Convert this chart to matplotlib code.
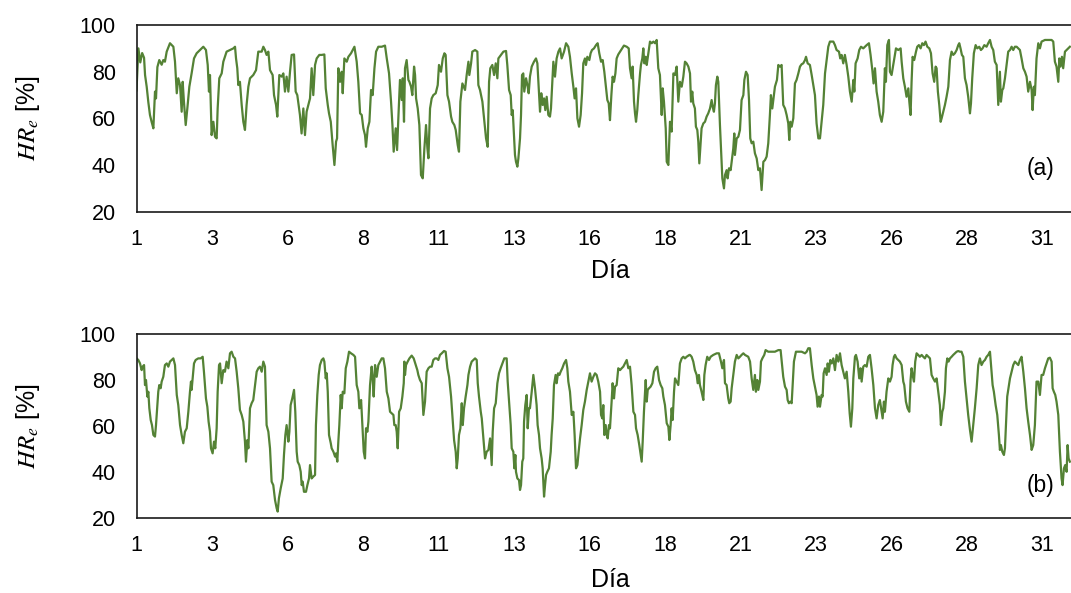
import matplotlib
matplotlib.use('Agg')
import matplotlib.pyplot as plt

plt.rcParams['font.family'] = ['Liberation Sans', 'DejaVu Sans']
plt.rcParams['mathtext.fontset'] = 'stix'

# x axis: hours since the start of day 1; one labelled tick every 60 h
tick_hours = [0, 60, 120, 180, 240, 300, 360, 420, 480, 540, 600, 660, 720]
tick_labels = ['1', '3', '6', '8', '11', '13', '16', '18', '21', '23', '26', '28', '31']
y_ticks = [20, 40, 60, 80, 100]
panel_tags = ['(a)', '(b)']

# Panel (a): (hour, HR_e %)
series_a = [
    (0, 72), (1.5, 90), (3, 84), (4.5, 88), (6, 86), (6.8, 78.6), (8.1, 73.6), (9.4, 67), (10.7, 61.5),
    (12, 58.6), (13.4, 55.8), (14.7, 71.5), (15.5, 68.6), (16.6, 82), (18.1, 85), (20, 83), (21.3, 85),
    (22.6, 84.3), (24, 88.6), (26.6, 92.2), (29.3, 90.7), (30.6, 84.3), (32, 70.8), (33.2, 77.2), (34.6, 74.3),
    (35.9, 62.9), (36.7, 75.7), (37.7, 67.2), (39.1, 57.2), (40.4, 64.3), (42, 73.6), (43.8, 79.3), (45.7, 85.7),
    (47.8, 87.9), (50.5, 89.3), (53.1, 90.7), (55.2, 89.3), (56.6, 82.9), (57.6, 71.5), (58.4, 78.6), (59.7, 52.9),
    (61.1, 58.6), (62.4, 52.2), (63.7, 51.5), (64.5, 64.3), (65.8, 77.2), (67.7, 79.3), (69, 84.3), (70.3, 86.4),
    (71.6, 88.6), (74.3, 89.3), (77, 90), (78.3, 90.7), (79.1, 85.7), (80.1, 81.5), (80.9, 74.3), (82.2, 75.7),
    (83.6, 65.8), (84.9, 58.6), (86.2, 55.1), (87.5, 65.8), (88.9, 73.6), (90.2, 77.2), (92.8, 78.6), (95, 80.7),
    (96.8, 88.6), (99.5, 88.6), (100.8, 90.7), (102.1, 89.3), (103.4, 87.2), (104.8, 88.6), (106.1, 80.7),
    (108.2, 78.6), (109.3, 70), (110.9, 65.8), (111.9, 60.8), (113.5, 78.6), (115.4, 77.9), (116.7, 79.3),
    (118, 71.5), (119.3, 77.9), (120.7, 71.5), (122, 80), (123.3, 87.2), (125.2, 87.4), (126.5, 71.5), (127.8, 70),
    (129.9, 61.5), (131.2, 53.6), (132.6, 64.3), (133.9, 52.9), (135.2, 62.9), (136.6, 65.8), (137.9, 68.6),
    (139.2, 81.5), (140.5, 70), (141.9, 82.9), (143.2, 85.7), (145.3, 87.2),
    (147.2, 87.2), (149.3, 87.4), (150.4, 72.9), (152, 65.8), (153, 62.2), (154.4, 58.6), (155.9, 48.6),
    (157.3, 40.1), (158.6, 50.1), (159.4, 51.5), (160.4, 81.5), (161.8, 75.7), (163.1, 80), (163.9, 70.8),
    (165.2, 85.7), (167.1, 84.3), (168.4, 86.4), (170.5, 87.9), (173.2, 90.7), (175, 84.3), (176.3, 75.7),
    (177.7, 62.2), (179, 61.5), (180.3, 55.8), (181.6, 52.9), (182.4, 47.9), (183.8, 55.8), (185.1, 58.6),
    (186.4, 72.2), (187.7, 70), (189.1, 81.5), (190.4, 88.6), (192.2, 90.7), (194.9, 90.7), (197.5, 91.2),
    (198.9, 85.7), (200.7, 79.3), (202.3, 67.2), (203.4, 57.2), (204.4, 45.8), (206, 55.8), (207.1, 46.5),
    (208.1, 60.1), (209.4, 76.5), (210.8, 67.9), (211.6, 77.2), (212.6, 58.6), (213.4, 81.5), (214.7, 85),
    (216.1, 76.5), (216.9, 75.7), (218.2, 73.6), (219.2, 70), (220.6, 82.2), (221.4, 78.6), (222.2, 68.6),
    (223.5, 64.3), (224.8, 57.2), (226.1, 35.8), (227.5, 34.4), (228.8, 47.2), (230.1, 57.2), (231.2, 47.2),
    (232, 43), (233.3, 64.3), (234.6, 68.6), (235.9, 70), (237.8, 70.8), (239.4, 74.3), (240.4, 82.9), (242, 80),
    (243.4, 85.7), (244.7, 87.9), (245.7, 87.2), (247.1, 70), (248.4, 67.2), (250, 60.8), (251, 58.6),
    (252.6, 57.2), (253.7, 55.1), (255.3, 48.6), (256.3, 45.8), (257.4, 67.2), (259, 75), (261.1, 72.2),
    (262.4, 78.6), (263.8, 84.3), (264.5, 78.6), (265.9, 83.6), (266.9, 88.6), (269.1, 89.3), (270.9, 88.6),
    (271.7, 74.3), (273, 72.2), (274.9, 67.2), (276.5, 58.6), (277.8, 51.5), (279.1, 47.9), (280.2, 75.7),
    (281.2, 81.5), (282.8, 82.9), (284.2, 78.6), (285.5, 83.6), (286.8, 77.2), (287.6, 85.7), (289.7, 87.2),
    (291.6, 88.6),
    (293.7, 88.9), (294.7, 82.9), (296.1, 72.2), (297.4, 70), (298.2, 61.5), (299, 63.6), (300, 52.9),
    (300.8, 44.4), (301.6, 41.5), (302.7, 39.4), (303.5, 42.9), (304.8, 51.5), (305.6, 61.5), (306.4, 78.6),
    (307.4, 79.3), (308.2, 71.5), (309.6, 77.2), (310.9, 73.6), (311.7, 70.8), (312.7, 77.9), (314.1, 82.2),
    (315.9, 84.3), (317.5, 85.7), (318.6, 83.6), (319.6, 73.6), (320.7, 62.9), (321.7, 70.8), (322.8, 65.8),
    (323.9, 68.6), (324.9, 63.6), (326, 69.3), (327.3, 61.5), (328.6, 60.8), (329.4, 64.3), (330.5, 75.7),
    (331.3, 84.3), (332.6, 77.9), (333.9, 85.7), (335.3, 88.6), (336.6, 90), (337.9, 85.7), (339.8, 88.6),
    (341.4, 92.2), (343.2, 90.7), (344.5, 86.4), (345.9, 79.3), (347.2, 73.6), (348.2, 68.6), (349.3, 72.9),
    (350.4, 60.1), (351.7, 56.5), (353, 61.5), (354.1, 70.8), (355.1, 83.6), (356.4, 85.7), (357.2, 82.9),
    (358.3, 86.4), (359.9, 85), (360.9, 87.9), (362, 89.3), (363.6, 90), (365.2, 91.4), (366.5, 92.2),
    (367.8, 87.9), (369.2, 84.3), (370.5, 85), (371.8, 80), (373.1, 73.6), (374.2, 67.9), (375.3, 66.5),
    (376.3, 59.3), (377.4, 70), (378.4, 77.9), (379.5, 75.7), (380.6, 79.3), (381.6, 85.7), (382.9, 87.4),
    (384.3, 88.6), (385.9, 90), (387.4, 91.2), (389.6, 90.7), (391.2, 90), (392.2, 81.5), (393.5, 77.2),
    (394.3, 82.2), (395.4, 67.2), (396.2, 62.2), (397, 58.6), (398, 63.6), (398.8, 70), (400.2, 79.3),
    (400.9, 82.9), (402, 85.7), (402.8, 90), (403.6, 83.6), (404.7, 86.4), (405.5, 82.9), (406.8, 87.9),
    (408.1, 92.9), (409.4, 92.2), (410.8, 92.9), (412.1, 92.2), (413.4, 93.6), (414.7, 81.5), (416, 78.6),
    (417.4, 61.5), (418.2, 72.9), (419.2, 67.2), (420.6, 55.8), (421.4, 41.5), (422.7, 40.1), (424, 58.6),
    (425.3, 54.4), (426.7, 79.3), (428, 78.6), (429.3, 82.2), (430.6, 67.2), (431.9, 75.7), (433.3, 73.6),
    (434.6, 77.9), (435.9, 84.3), (437.2, 83.6), (438.6, 82.2),
    (439.9, 79.3), (440.7, 67.2), (441.7, 71.5), (442.5, 66.5), (443.8, 64.3), (444.6, 56.5), (445.7, 55.1),
    (446.5, 50.1), (447.3, 40.8), (448.1, 47.2), (449.1, 55.8), (450.5, 57.9), (451.8, 58.6), (453.1, 60.8),
    (454.4, 62.2), (455.8, 64.3), (457.1, 67.9), (457.9, 65), (458.9, 62.9), (459.7, 66.5), (460.5, 74.3),
    (461.6, 77.9), (462.4, 75.7), (463.7, 57.2), (464.5, 47.2), (465.6, 34.4), (466.9, 30.1), (467.7, 35.8),
    (469, 37.9), (469.8, 34.4), (470.9, 38.7), (472.2, 37.9), (473, 41.5), (474.3, 47.2), (475.1, 53.6),
    (475.6, 44.4), (477, 51.5), (478.3, 52.2), (479.6, 55.1), (480.9, 67.9), (482.3, 70), (483.1, 76.5),
    (484.4, 80), (485.7, 78.6), (486.8, 67.9), (487.8, 51.5), (488.9, 49.4), (490.2, 50.1), (491.5, 45.1),
    (492.9, 42.9), (494.2, 37.9), (495.5, 38.7), (496.8, 29.4), (498.2, 41.5), (499.5, 42.2), (500.8, 43.7),
    (502.1, 49.4), (503.4, 61.5), (504.2, 70), (505.3, 64.3), (506.4, 69.3), (507.4, 73.6), (509, 76.5),
    (510.1, 82.9), (511.4, 82.2), (512.7, 82.9), (514, 65.8), (515.4, 64.3), (516.7, 61.5), (518, 57.9),
    (518.8, 50.8), (519.6, 58.6), (520.7, 56.5), (522, 60.1), (523.3, 75), (524.6, 76.5), (526, 79.3),
    (527.3, 82.2), (528.6, 83.2), (529.9, 83.6), (531.3, 85), (532.1, 86.4), (533.4, 83.6), (535.2, 82.9),
    (536.6, 78.6), (537.9, 74.3), (539.2, 70), (540.5, 57.9), (541.9, 51.5), (543.2, 51.5), (544.5, 58.6),
    (545.8, 65.8), (547.2, 79.3), (548.5, 85), (549.8, 90.7), (551.1, 92.9), (553.8, 92.9), (555.1, 91.4),
    (556.4, 89.3), (558.3, 88.6), (559.3, 85.7), (560.4, 87.2), (561.7, 83.6), (563, 87.2), (564.4, 82.9),
    (565.7, 77.9), (567, 71.5), (568.4, 67.2), (569.7, 76.5), (570.5, 71.5), (571.5, 83.6), (573.1, 85.7),
    (574.4, 89.3), (575.8, 90.7), (577.6, 90), (580.3, 91.4), (582.1, 92.2), (583.4, 87.2), (584.8, 80.7),
    (585.8, 75), (586.9, 81.5),
    (588.2, 71.5), (589.5, 67.2), (590.8, 61.5), (592.2, 58.6), (593.5, 62.9), (594.8, 81.5), (595.6, 75.7),
    (596.7, 91.4), (598, 93.6), (598.8, 80), (600.1, 78.6), (601.4, 82.9), (602.2, 85.7), (603.6, 90),
    (605.4, 89.3), (607.3, 90), (608.1, 84.3), (609.4, 77.2), (610.7, 73.6), (612, 69.3), (613.4, 72.9),
    (614.2, 67.2), (615.2, 61.5), (616, 75.7), (616.8, 86.4), (618.1, 85), (619.5, 88.6), (620.5, 90.7),
    (621.8, 91.4), (623.2, 90), (624.5, 92.2), (625.8, 91.4), (627.1, 92.9), (628.5, 90.7), (630.1, 90),
    (631.4, 87.9), (632.7, 79.3), (634, 75.7), (635.1, 82.2), (635.9, 81.5), (636.9, 71.5), (638, 65.8),
    (639.1, 58.6), (639.9, 60.1), (641.2, 62.9), (642.5, 65.8), (643.8, 69.3), (645.2, 73.6), (646.5, 85),
    (647.8, 88.6), (649.1, 87.2), (650.4, 87.9), (651.8, 89.3), (653.1, 91.4), (653.9, 92.2), (654.9, 90),
    (656, 87.2), (657.1, 86.4), (658.4, 77.2), (659.7, 74.3), (661, 69.3), (662.4, 62.2), (663.2, 66.5),
    (664.2, 77.2), (665.5, 87.9), (666.9, 91.4), (668.2, 90), (669.8, 90.7), (671.1, 89.3), (672.4, 90),
    (673.8, 91.4), (675.6, 90.7), (676.9, 92.2), (678.3, 93.6), (679.6, 90.7), (680.9, 89.3), (682.2, 84.3),
    (683.6, 82.9), (684.9, 65.8), (686.2, 80), (687, 67.2), (688.1, 72.2), (688.9, 72.9), (690.2, 77.2),
    (691.5, 82.9), (692.8, 88.6), (694.2, 89.3), (695.5, 90.7), (696.8, 89.3), (698.1, 90.7), (699.5, 90.7),
    (700.8, 90), (702.1, 89.3), (703.4, 85.7), (704.8, 81.5), (706.1, 80), (707.4, 77.9), (708.7, 71.5),
    (710.1, 75.7), (711.4, 72.2), (712.2, 63.6), (713.2, 73.6), (714, 70), (715.3, 85.7), (716.7, 92.2),
    (718, 90), (719.3, 92.9), (722, 93.6), (724.6, 93.6), (727.3, 93.6), (728.6, 92.9), (729.9, 84.3),
    (731.2, 82.2), (732.6, 75.7), (733.4, 85.7), (734.4, 82.2), (735.5, 86.4), (736.5, 81.5), (737.9, 88.6),
    (739.2, 89.3), (740.5, 90), (741.8, 90.7),
]

# Panel (b): (hour, HR_e %)
series_b = [
    (0.1, 89.4), (1.45, 88.7), (2.8, 87.2), (4.1, 84.3), (4.9, 85.8), (6, 86.5), (6.75, 77.8), (7.55, 80),
    (8.6, 72.8), (9.4, 74.9), (10.2, 67.7), (11.3, 62.6), (12.3, 60.4), (13.4, 56.1), (14.7, 55.4), (15.5, 60.4),
    (16.6, 69.1), (17.3, 74.9), (18.1, 77.8), (19.2, 76.4), (20, 79.3), (21.3, 81.4), (22.6, 86.5), (24, 87.2),
    (25.3, 85.8), (26.6, 88), (28, 88.7), (29.3, 89.4), (30.6, 86.5), (32, 73.5), (33.2, 69.1), (34.6, 60.4),
    (35.9, 56.1), (37.2, 52.5), (38.5, 57.5), (39.9, 59), (41.2, 66.2), (42.5, 74.9), (43.3, 79.3), (43.8, 75.7),
    (44.6, 80.7), (45.7, 87.2), (47, 88.7), (49.1, 89.4), (51, 89.4), (52.6, 90.1), (53.6, 83.6), (55.2, 72),
    (56.3, 68.4), (57.3, 61.9), (58.4, 57.5), (59.2, 50.3), (60.5, 48.1), (61.6, 53.2), (62.6, 50.3), (63.7, 59),
    (64.5, 74.9), (65.6, 86.5), (66.4, 87.2), (67.7, 78.6), (69, 84.3), (70.3, 83.6), (71.6, 88), (73, 85.1),
    (74.3, 91.6), (75.6, 92.3), (77, 90.1), (78.3, 89.4), (79.6, 83.6), (80.9, 76.4), (82.2, 67), (83.6, 64.8),
    (84.9, 61.9), (86.2, 53.2), (87, 44.5), (88.1, 53.9), (88.9, 50.3), (90.2, 67.7), (91.5, 69.9), (92.8, 71.3),
    (94.2, 77.8), (95.5, 83.6), (96.8, 85.1), (98.1, 85.8), (99.5, 83.6), (100.8, 88), (102.1, 85.8),
    (103.4, 60.4), (104.8, 57.5), (106.1, 50.3), (107.4, 35.8), (108.7, 34.3), (110.1, 27.8), (111.4, 24.2),
    (112.2, 22.8), (113.2, 28.6), (114.6, 32.9), (116.2, 37.2), (117.2, 47.4), (118.3, 56.1), (119.3, 60.4),
    (120.7, 53.2), (121.5, 57.5), (122.5, 69.1), (123.8, 72), (125.2, 75.7), (126.2, 66.2), (127.3, 48.8),
    (128.1, 44.5), (129.4, 43), (130.5, 40.1), (131.3, 34.3), (132.1, 35.8), (133.1, 31.4), (134.7, 31.4),
    (135.8, 34.3), (137.1, 37.2), (137.9, 43), (139.2, 37.2), (140.5, 38), (141.9, 38.7), (142.6, 60.4),
    (143.7, 73.5), (144.8, 82.2), (145.8, 86.5),
    (147.2, 88.7), (148.5, 89.4), (149.3, 88), (150.4, 80.7), (151.2, 82.9), (152, 74.9), (153, 56.1),
    (154.4, 52.5), (155.1, 50.3), (156.5, 48.8), (157.8, 46.7), (158.6, 48.1), (159.6, 44.5), (160.4, 53.2),
    (161.2, 60.4), (162.3, 73.5), (163.1, 67.7), (163.9, 74.9), (165.2, 74.2), (166.3, 85.1), (167.6, 88),
    (168.9, 92.3), (170.5, 91.6), (172.4, 90.9), (173.7, 90.1), (175, 77.8), (176.3, 74.9), (177.1, 67.7),
    (178.5, 71.3), (179.5, 60.4), (180.6, 48.8), (181.6, 45.9), (182.4, 59), (183.5, 57.5), (184.3, 61.9),
    (185.6, 77.8), (186.9, 85.8), (187.7, 80.7), (188.5, 72.8), (189.6, 86.5), (190.9, 81.4), (192.2, 86.5),
    (193.6, 88), (194.9, 89.4), (196.2, 89.4), (197.5, 85.1), (198.9, 74.9), (200.2, 72), (201.5, 66.2),
    (202.8, 65.5), (204.2, 64.8), (204.9, 60.4), (206, 60.4), (206.8, 57.5), (207.6, 50.3), (208.7, 66.2),
    (210, 67.7), (211.3, 72.8), (212.4, 78.6), (212.9, 88), (213.4, 82.2), (214.2, 86.5), (215.5, 88),
    (216.9, 89.4), (218.7, 90.6), (220.3, 89.4), (221.9, 86.5), (223.2, 84.3), (224, 82.2), (225.3, 80),
    (226.7, 78.6), (228, 64.8), (229.3, 70.6), (230.6, 83.6), (232, 85.1), (233.3, 85.8), (234.6, 85.8),
    (235.9, 88.7), (237.3, 89.4), (238.6, 89.4), (239.9, 88.7), (241.2, 90.9), (242.6, 91.6), (244.4, 92.6),
    (245.7, 92.3), (247.1, 85.1), (248.4, 81.4), (250, 72.8), (251, 64.8), (252.4, 53.9), (253.7, 48.8),
    (254.5, 41.6), (255.3, 45.9), (256.3, 56.1), (257.4, 59), (258.5, 69.9), (259.3, 60.4), (260.3, 67.7),
    (261.6, 72.8), (263, 77.8), (263.8, 82.2), (265.1, 85.8), (266.4, 88), (267.7, 88.7), (269.1, 89.4),
    (270.4, 88.7), (271.2, 78.6), (272.2, 72.8), (273.6, 66.2), (274.4, 63.3), (275.7, 54.6), (277, 45.9),
    (278.3, 48.8), (279.7, 49.6), (281, 54.6), (282.3, 43), (283.1, 57.5), (284.2, 67.7), (285.5, 69.9),
    (286.8, 78.6), (288.1, 82.9), (289.4, 85.1), (290.8, 87.2), (292.3, 89.4),
    (292.9, 89.4), (294.2, 89.4), (295, 79.3), (296.1, 70.6), (297.4, 60.4), (298.2, 50.3), (299.5, 48.8),
    (300.3, 41.6), (301.1, 47.4), (301.6, 40.1), (302.7, 37.2), (304, 36.5), (304.8, 32.2), (305.6, 34.3),
    (306.6, 44.5), (307.4, 45.9), (308, 61.9), (309, 69.1), (310.1, 73.5), (310.9, 59), (311.9, 67.7),
    (312.7, 67.7), (314.1, 74.9), (315.4, 82.2), (316.7, 76.4), (318, 69.1), (318.8, 60.4), (319.9, 56.1),
    (320.7, 50.3), (322, 45.9), (322.8, 41.6), (323.9, 29.3), (324.7, 34.3), (325.5, 38.7), (326.5, 40.1),
    (327.8, 41.6), (329.2, 48.8), (329.9, 56.1), (330.8, 63.3), (331.8, 77.8), (333.1, 82.2), (333.9, 78.6),
    (335, 82.9), (336.1, 82.2), (337.1, 83.6), (338.4, 85.1), (339.8, 87.2), (341.4, 88.7), (342.4, 85.1),
    (343.2, 79.3), (344.5, 74.9), (345.9, 64.8), (347.2, 66.2), (348.2, 56.1), (349.3, 41.6), (350.4, 43),
    (351.4, 48.8), (352.5, 54.6), (353.8, 60.4), (355.1, 67), (356.4, 70.6), (357.8, 75.7), (359.1, 79.3),
    (360.4, 82.9), (361.7, 79.3), (363.1, 81.4), (364.4, 82.9), (365.7, 82.2), (367, 79.3), (368.4, 74.9),
    (369.2, 64.8), (370.2, 63.3), (371, 69.1), (371.8, 56.1), (372.9, 60.4), (373.7, 56.1), (374.5, 54.6),
    (375.5, 60.4), (376.3, 59), (377.6, 70.6), (378.4, 78.6), (379.5, 72), (380.3, 77.1), (381.6, 77.8),
    (382.9, 85.1), (384.3, 84.3), (385.6, 85.1), (386.9, 85.8), (388.2, 87.2), (389.6, 88.7), (390.9, 85.1),
    (392.2, 85.8), (393.5, 77.8), (394.9, 66.2), (396.2, 64.8), (397, 59), (398.3, 56.1), (399.6, 51.7),
    (400.7, 47.4), (401.5, 44.5), (402.3, 53.2), (403.3, 66.2), (404.7, 80), (405.5, 70.6), (406.3, 75.7),
    (407.3, 76.4), (408.6, 77.1), (410, 78.6), (411.3, 83.6), (412.6, 85.1), (413.9, 85.8), (415.3, 80),
    (416.6, 77.8), (417.9, 76.4), (418.7, 72.8), (420, 69.1), (421.4, 61.2), (422.7, 59.7), (423.5, 53.9),
    (424.5, 60.4), (425.3, 67.7), (426.1, 62.6), (427.2, 74.9), (428, 80.7), (429.3, 79.3), (430.6, 77.8),
    (431.9, 87.2), (433.3, 89.4), (434.6, 90.1), (435.9, 89.4), (437.2, 90.1), (439.4, 90.9),
    (439.9, 90.9), (441.2, 90.1), (442.5, 88), (443.8, 84.3), (445.2, 82.2), (446, 78.6), (447, 82.2),
    (447.8, 77.8), (449.1, 74.9), (450.5, 71.3), (451.3, 82.2), (452.3, 86.5), (453.6, 90.1), (455, 88.7),
    (456.3, 90.1), (458.4, 90.9), (461.1, 91.6), (462.9, 91.6), (464.5, 88), (465.6, 85.1), (466.9, 88.7),
    (467.7, 78.6), (469, 77.8), (470.3, 72), (471.1, 69.9), (472.2, 70.6), (473, 76.4), (474.3, 82.2),
    (475.6, 88), (477, 90.9), (478.3, 89.4), (479.6, 90.1), (480.9, 90.9), (482.3, 91.6), (483.6, 90.9),
    (486.2, 90.1), (487.6, 88), (488.9, 80.7), (490.2, 75.7), (491.5, 82.2), (492.3, 74.9), (493.4, 80),
    (494.2, 75.7), (495.5, 79.3), (496.3, 88), (497.4, 89.4), (498.9, 90.9), (500, 93), (502.1, 92.3),
    (504.8, 92.3), (507.4, 92.3), (510.1, 93), (511.9, 93), (512.7, 88.7), (514, 81.4), (515.4, 77.1),
    (516.7, 75.7), (517.5, 71.3), (518.5, 69.9), (519.6, 70.6), (520.7, 69.9), (521.5, 77.8), (522.5, 88),
    (524.1, 92.3), (526, 92.3), (528.6, 92.3), (531.3, 91.6), (532.6, 92.3), (533.9, 93.8), (535.2, 93.8),
    (536.6, 86.5), (537.9, 80.7), (539.2, 77.1), (540.5, 73.5), (541.3, 68.4), (542.4, 72.8), (543.2, 68.4),
    (544.5, 73.5), (545.3, 72.8), (546.1, 82.9), (547.2, 85.1), (548.5, 82.2), (549.3, 87.2), (550.3, 83.6),
    (551.4, 88.7), (552.5, 87.2), (553.8, 89.4), (555.1, 84.3), (556.4, 90.9), (557.8, 88), (559.1, 91.6),
    (560.4, 86.5), (561.7, 83.6), (563, 80.7), (564.4, 83.6), (565.7, 74.9), (566.8, 65.5), (567.8, 59.7),
    (568.9, 67.7), (569.7, 80.7), (571, 90.1), (571.8, 90.9), (573.1, 88), (574.4, 80.7), (575.5, 85.1),
    (576.3, 79.3), (577.6, 85.8), (578.9, 86.5), (580.3, 85.8), (581.6, 90.1), (582.9, 90.9), (584.2, 85.1),
    (585.6, 77.8), (586.9, 67.7),
    (588.2, 63.3), (589.5, 69.1), (590.8, 71.3), (592.2, 66.2), (593, 63.3), (594, 70.6), (594.8, 66.2),
    (596.1, 74.9), (597.5, 80.7), (598.8, 79.3), (600.1, 81.4), (600.9, 86.5), (602, 90.1), (602.8, 90.9),
    (604.1, 89.4), (605.4, 88.7), (606.7, 88), (608.1, 86.5), (609.4, 79.3), (610.2, 77.8), (611.5, 70.6),
    (612.8, 67.7), (614.2, 66.2), (615.2, 80), (616, 85.1), (616.8, 82.2), (617.9, 79.3), (618.9, 88),
    (620, 91.6), (621.3, 90.9), (622.6, 90.1), (624, 90.9), (625.3, 90.1), (626.6, 89.4), (627.9, 90.9),
    (629.3, 90.1), (630.6, 89.4), (631.9, 82.2), (633.2, 80.7), (634.6, 79.3), (635.9, 80.7), (637.2, 74.9),
    (638.5, 69.1), (639.3, 60.4), (640.4, 66.2), (641.2, 67.7), (642.5, 74.9), (643.3, 85.1), (644.4, 89.4),
    (645.4, 88), (646.5, 89.4), (647.8, 90.1), (649.1, 90.9), (650.4, 91.6), (651.8, 92.3), (653.1, 92.6),
    (654.4, 92.3), (655.7, 92.3), (657.1, 90.1), (658.4, 79.3), (659.7, 72), (661, 64.8), (662.4, 58.3),
    (663.7, 53.2), (665, 60.4), (666.3, 67.7), (667.7, 76.4), (669, 86.5), (670.3, 89.4), (671.6, 86.5),
    (673, 88), (674.3, 88.7), (675.6, 90.1), (676.9, 90.9), (678.3, 92.3), (679.6, 83.6), (680.4, 77.8),
    (681.4, 74.9), (682.8, 69.1), (684.1, 64.8), (685.4, 56.1), (686.2, 49.6), (687, 51.7), (688.1, 48.8),
    (689.4, 47.4), (690.2, 50.3), (691, 60.4), (692, 72.8), (693.4, 77.8), (694.2, 80.7), (695.5, 83.6),
    (696.8, 86.5), (698.1, 88), (699.5, 87.2), (700.8, 86.5), (702.1, 88.7), (703.4, 90.1), (704.8, 83.6),
    (706.1, 76.4), (707.4, 67.7), (708.7, 61.9), (710.1, 56.1), (711.4, 49.6), (712.7, 51.7), (714, 60.4),
    (715.3, 79.3), (716.7, 79.3), (718, 73.5), (719.3, 82.2), (720.6, 82.2), (722, 85.1), (723.3, 87.2),
    (724.6, 89.4), (725.9, 89.7), (727.3, 88), (728.1, 76.4), (729.1, 74.9), (730.2, 73.5), (731.2, 70.6),
    (732.6, 64.8), (733.9, 48.8), (735.2, 37.2), (736, 34.3), (737.1, 41.6), (738.1, 43), (739.2, 40.1),
    (740, 51.7), (740.8, 45.9), (741.8, 44.5),
]

W, H = 1071, 593
fig = plt.figure(figsize=(W / 100, H / 100), dpi=100)
left = 136.5 / W
width = 1.0 - left
ax_a = fig.add_axes([left, (H - 212) / H, width, 187 / H])
ax_b = fig.add_axes([left, (H - 518) / H, width, 184 / H])

line_color = '#548235'
for ax, series, tag, tag_y, xlab_y in [
    (ax_a, series_a, panel_tags[0], 0.23, -0.315),
    (ax_b, series_b, panel_tags[1], 0.174, -0.337),
]:
    hours, rh = zip(*series)
    ax.plot(hours, rh, color=line_color, lw=1.6, solid_joinstyle='round')
    ax.set_xlim(0, 742.7)
    ax.set_ylim(20, 100)
    ax.set_xticks(tick_hours)
    ax.set_xticklabels(tick_labels)
    ax.set_yticks(y_ticks)
    ax.tick_params(axis='x', length=0, labelsize=15.5, pad=12)
    ax.tick_params(axis='y', length=0, labelsize=15.5, pad=15)
    ax.spines['right'].set_visible(False)
    for s in ['left', 'top', 'bottom']:
        ax.spines[s].set_linewidth(1.2)
        ax.spines[s].set_color('#1a1a1a')
    ax.set_xlabel('Día', fontsize=18)
    ax.xaxis.set_label_coords(0.507, xlab_y)
    ax.xaxis.label.set_va('center')
    ax.set_ylabel(r'$HR_e$ [%]', fontsize=18)
    ax.yaxis.set_label_coords(-0.116, 0.5)
    ax.yaxis.label.set_va('center')
    ax.text(0.967, tag_y, tag, transform=ax.transAxes, ha='center', va='center', fontsize=16.5)

fig.savefig('out.png', dpi=100)
